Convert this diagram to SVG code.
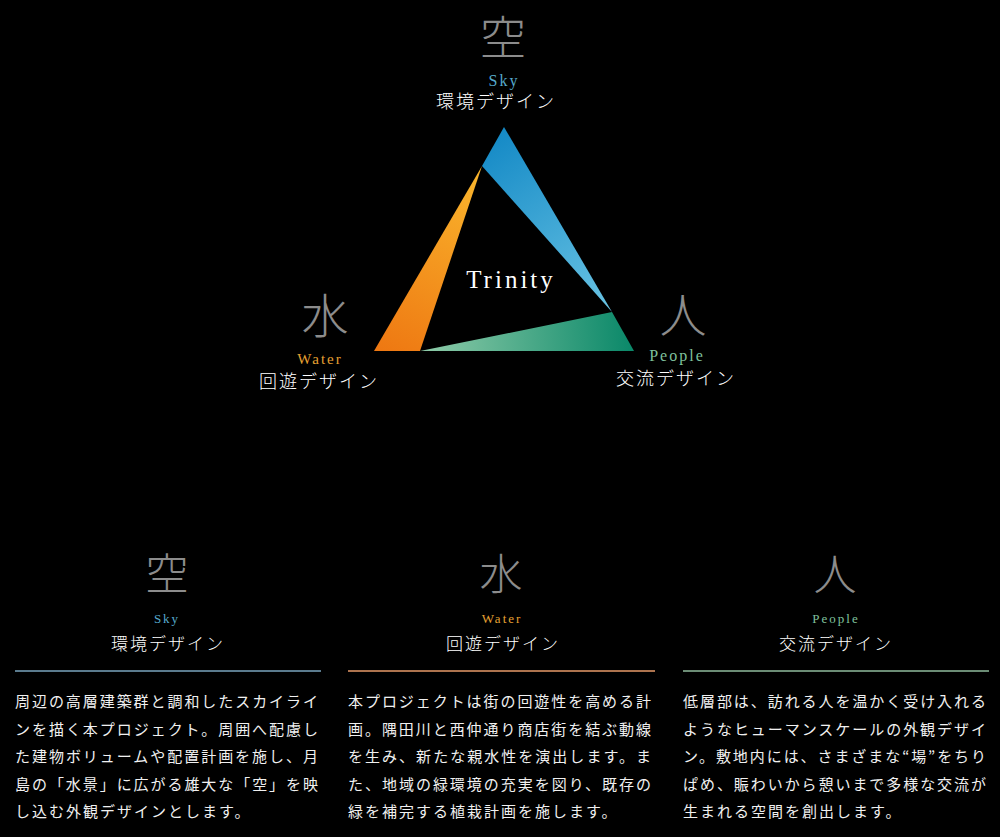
<svg xmlns="http://www.w3.org/2000/svg" width="1000" height="837" viewBox="0 0 1000 837">
<defs>
<style>
.kanji{font-family:"Noto Sans CJK JP","Noto Sans CJK SC",sans-serif;fill:#8c8c8c;text-anchor:middle;font-weight:300}
.en{font-family:"Liberation Serif","DejaVu Serif",serif;text-anchor:middle;letter-spacing:2px}
.sky{fill:#55a9cc}
.water{fill:#e6a032}
.people{fill:#7fc09d}
.head{font-family:"Noto Sans CJK JP","Noto Sans CJK SC",sans-serif;fill:#ffffff;text-anchor:middle;letter-spacing:2px;font-weight:300}
.body{font-family:"Noto Sans CJK JP","Noto Sans CJK SC",sans-serif;fill:#f0f0f0;font-size:15px;letter-spacing:2px}
</style>
<linearGradient id="gBlue" gradientUnits="userSpaceOnUse" x1="495" y1="135" x2="612" y2="312">
<stop offset="0" stop-color="#158ac6"/><stop offset="1" stop-color="#6ac4e4"/>
</linearGradient>
<linearGradient id="gOrange" gradientUnits="userSpaceOnUse" x1="470" y1="180" x2="380" y2="350">
<stop offset="0" stop-color="#f9b22b"/><stop offset="1" stop-color="#ee7812"/>
</linearGradient>
<linearGradient id="gGreen" gradientUnits="userSpaceOnUse" x1="425" y1="350" x2="630" y2="340">
<stop offset="0" stop-color="#8dcba8"/><stop offset="1" stop-color="#0c896a"/>
</linearGradient>
</defs>
<rect width="1000" height="837" fill="#000000"/>

<g id="triangle">
<polygon points="504,127 612,312 482,166" fill="url(#gBlue)"/>
<polygon points="482,166 420,351 374,351" fill="url(#gOrange)"/>
<polygon points="420,351 634,351 612,312" fill="url(#gGreen)"/>
<text x="511" y="288" font-family="Liberation Serif, DejaVu Serif, serif" font-size="25" fill="#ffffff" text-anchor="middle" letter-spacing="3">Trinity</text>
</g>

<g id="node-sky">
<text class="kanji" x="503" y="54" font-size="46">空</text>
<text class="en sky" x="504" y="86" font-size="16">Sky</text>
<text class="head" x="496" y="108" font-size="18">環境デザイン</text>
</g>
<g id="node-water">
<text class="kanji" x="325" y="333" font-size="47">水</text>
<text class="en water" x="320" y="364" font-size="15" letter-spacing="3">Water</text>
<text class="head" x="319" y="388" font-size="18">回遊デザイン</text>
</g>
<g id="node-people">
<text class="kanji" x="683" y="332" font-size="47">人</text>
<text class="en people" x="677" y="361" font-size="16">People</text>
<text class="head" x="676" y="385" font-size="18">交流デザイン</text>
</g>

<g id="col-sky">
<text class="kanji" x="167" y="590" font-size="43">空</text>
<text class="en sky" x="167" y="623" font-size="13">Sky</text>
<text class="head" x="168" y="650" font-size="17">環境デザイン</text>
<line x1="15" y1="671" x2="321" y2="671" stroke="#7aa4be" stroke-width="1.3"/>
<text class="body" x="15" y="707" textLength="305" lengthAdjust="spacing">周辺の高層建築群と調和したスカイライ</text>
<text class="body" x="15" y="734.5" textLength="305" lengthAdjust="spacing">ンを描く本プロジェクト。周囲へ配慮し</text>
<text class="body" x="15" y="762" textLength="305" lengthAdjust="spacing">た建物ボリュームや配置計画を施し、月</text>
<text class="body" x="15" y="789.5" textLength="305" lengthAdjust="spacing">島の「水景」に広がる雄大な「空」を映</text>
<text class="body" x="15" y="817">し込む外観デザインとします。</text>
</g>

<g id="col-water">
<text class="kanji" x="501" y="590" font-size="43">水</text>
<text class="en water" x="502" y="623" font-size="13">Water</text>
<text class="head" x="503" y="650" font-size="17">回遊デザイン</text>
<line x1="348" y1="671" x2="655" y2="671" stroke="#e79a68" stroke-width="1.3"/>
<text class="body" x="348" y="707" textLength="305" lengthAdjust="spacing">本プロジェクトは街の回遊性を高める計</text>
<text class="body" x="348" y="734.5" textLength="305" lengthAdjust="spacing">画。隅田川と西仲通り商店街を結ぶ動線</text>
<text class="body" x="348" y="762" textLength="305" lengthAdjust="spacing">を生み、新たな親水性を演出します。ま</text>
<text class="body" x="348" y="789.5" textLength="305" lengthAdjust="spacing">た、地域の緑環境の充実を図り、既存の</text>
<text class="body" x="348" y="817">緑を補完する植栽計画を施します。</text>
</g>

<g id="col-people">
<text class="kanji" x="835" y="590" font-size="43">人</text>
<text class="en people" x="836" y="623" font-size="13">People</text>
<text class="head" x="836" y="650" font-size="17">交流デザイン</text>
<line x1="683" y1="671" x2="989" y2="671" stroke="#8fbb9c" stroke-width="1.3"/>
<text class="body" x="683" y="707" textLength="305" lengthAdjust="spacing">低層部は、訪れる人を温かく受け入れる</text>
<text class="body" x="683" y="734.5" textLength="305" lengthAdjust="spacing">ようなヒューマンスケールの外観デザイ</text>
<text class="body" x="683" y="762" textLength="305" lengthAdjust="spacing">ン。敷地内には、さまざまな“場”をちり</text>
<text class="body" x="683" y="789.5" textLength="305" lengthAdjust="spacing">ぱめ、賑わいから憩いまで多様な交流が</text>
<text class="body" x="683" y="817">生まれる空間を創出します。</text>
</g>
</svg>
